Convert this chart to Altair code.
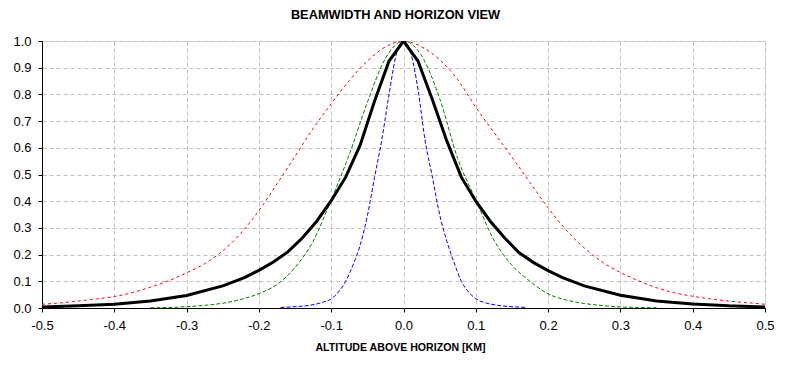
import altair as alt
import pandas as pd

# ---- data ----
red_x = [-0.5, -0.475, -0.45, -0.425, -0.4, -0.375, -0.35, -0.325, -0.3, -0.275,
         -0.25, -0.225, -0.2, -0.175, -0.15, -0.125, -0.1, -0.075, -0.05, -0.025,
         0.0, 0.025, 0.05, 0.075, 0.1, 0.125, 0.15, 0.175, 0.2, 0.225,
         0.25, 0.275, 0.3, 0.325, 0.35, 0.375, 0.4, 0.425, 0.45, 0.475, 0.5]
red_y = [0.014, 0.019, 0.026, 0.034, 0.043, 0.058, 0.078, 0.102, 0.132, 0.166,
         0.214, 0.28, 0.365, 0.465, 0.568, 0.672, 0.765, 0.852, 0.925, 0.978,
         1.0, 0.978, 0.93, 0.855, 0.752, 0.658, 0.565, 0.47, 0.375, 0.292,
         0.225, 0.172, 0.133, 0.102, 0.076, 0.057, 0.044, 0.034, 0.026, 0.02, 0.014]

green_x = [-0.35, -0.325, -0.3, -0.275, -0.25, -0.225, -0.2, -0.175, -0.15, -0.125,
           -0.1, -0.075, -0.05, -0.025, 0.0, 0.025, 0.05, 0.075, 0.1, 0.125,
           0.15, 0.175, 0.2, 0.225, 0.25, 0.275, 0.3, 0.325, 0.35]
green_y = [0.001, 0.002, 0.005, 0.01, 0.018, 0.032, 0.054, 0.088, 0.152, 0.25,
           0.405, 0.575, 0.77, 0.935, 1.0, 0.945, 0.785, 0.56, 0.405, 0.255,
           0.16, 0.1, 0.053, 0.03, 0.017, 0.009, 0.004, 0.002, 0.001]

blue_x = [-0.17, -0.15, -0.13, -0.12, -0.11, -0.1, -0.09, -0.08, -0.07, -0.06,
          -0.05, -0.04, -0.03, -0.02, -0.01, 0.0, 0.01, 0.02, 0.03, 0.04,
          0.05, 0.06, 0.07, 0.08, 0.09, 0.1, 0.11, 0.12, 0.13, 0.15, 0.17]
blue_y = [0.002, 0.005, 0.01, 0.015, 0.023, 0.034, 0.06, 0.1, 0.16, 0.235,
          0.345, 0.49, 0.63, 0.8, 0.95, 1.0, 0.955, 0.82, 0.625, 0.49,
          0.35, 0.25, 0.17, 0.1, 0.06, 0.035, 0.022, 0.015, 0.01, 0.005, 0.002]

black_x = [-0.5, -0.45, -0.4, -0.35, -0.3, -0.25, -0.22, -0.2, -0.18, -0.16,
           -0.14, -0.12, -0.1, -0.08, -0.06, -0.04, -0.02, 0.0, 0.02, 0.04,
           0.06, 0.08, 0.1, 0.12, 0.14, 0.16, 0.18, 0.2, 0.22, 0.25,
           0.3, 0.35, 0.4, 0.45, 0.5]
black_y = [0.004, 0.008, 0.014, 0.026, 0.047, 0.083, 0.114, 0.141, 0.172, 0.21,
           0.262, 0.325, 0.402, 0.49, 0.61, 0.775, 0.925, 1.0, 0.925, 0.78,
           0.625, 0.49, 0.4, 0.325, 0.262, 0.207, 0.17, 0.14, 0.114, 0.083,
           0.048, 0.026, 0.015, 0.008, 0.004]

x_ticks = [-0.5, -0.4, -0.3, -0.2, -0.1, 0.0, 0.1, 0.2, 0.3, 0.4, 0.5]
y_ticks = [0.0, 0.1, 0.2, 0.3, 0.4, 0.5, 0.6, 0.7, 0.8, 0.9, 1.0]

FONT = "Liberation Sans"

xscale = alt.Scale(domain=[-0.5, 0.5], nice=False, zero=False)
yscale = alt.Scale(domain=[0, 1], nice=False)

xaxis = alt.Axis(values=x_ticks,
                 labelExpr="replace(format(datum.value, '.1f'), '\u2212', '-')",
                 title="ALTITUDE ABOVE HORIZON [KM]",
                 grid=True, gridColor="#c0c0c0", gridDash=[4, 3], gridWidth=1,
                 domainColor="black", tickColor="black", tickSize=4,
                 labelFont=FONT, labelFontSize=13, labelColor="black",
                 labelPadding=7, labelFlush=False, labelOverlap=False,
                 titleFont=FONT, titleFontSize=10.6, titleFontWeight="bold",
                 titleColor="black", titlePadding=10, titleX=358)
yaxis = alt.Axis(values=y_ticks,
                 labelExpr="format(datum.value, '.1f')",
                 title=None,
                 grid=True, gridColor="#c0c0c0", gridDash=[4, 3], gridWidth=1,
                 domainColor="black", tickColor="black", tickSize=4,
                 labelFont=FONT, labelFontSize=13, labelColor="black",
                 labelPadding=7, labelFlush=False, labelOverlap=False)


def series(xs, ys, color, dash, width, interp):
    df = pd.DataFrame({"x": xs, "y": ys})
    kw = dict(color=color, strokeWidth=width, interpolate=interp, clip=True)
    if dash:
        kw["strokeDash"] = dash
    return alt.Chart(df).mark_line(**kw).encode(
        x=alt.X("x:Q", scale=xscale, axis=xaxis),
        y=alt.Y("y:Q", scale=yscale, axis=yaxis),
    )


chart = alt.layer(
    series(red_x, red_y, "#ff0000", [3, 3], 1, "monotone"),
    series(green_x, green_y, "#008000", [4, 2], 1, "monotone"),
    series(blue_x, blue_y, "#0000ff", [4, 2], 1, "monotone"),
    series(black_x, black_y, "#000000", None, 3, "linear"),
).properties(
    width=723,
    height=267,
    padding={"left": 34, "top": 33, "right": 16, "bottom": 48},
    autosize=alt.AutoSizeParams(type="none"),
    title=alt.Title("BEAMWIDTH AND HORIZON VIEW", font=FONT, fontSize=12.8,
                    fontWeight="bold", color="black", anchor="middle",
                    frame="group", baseline="bottom", offset=12, dx=-8, dy=12),
).configure_view(
    stroke="#808080", strokeWidth=1
).configure(background="white")

chart.save("out.html", embed_options={"renderer": "svg", "actions": False})
